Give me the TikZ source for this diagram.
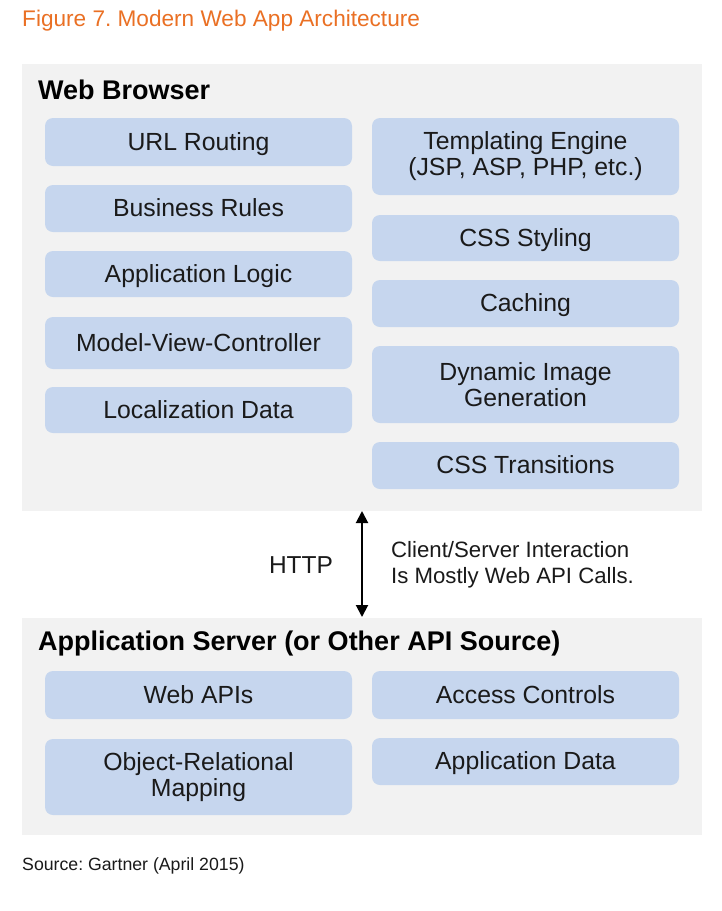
\documentclass[tikz,border=0pt]{standalone}
\usepackage{fontspec}
\setmainfont{Liberation Sans}
\frenchspacing
\usetikzlibrary{arrows.meta}
\definecolor{boxblue}{RGB}{198,214,238}
\definecolor{panelgray}{RGB}{242,242,242}
\definecolor{titleorange}{RGB}{234,112,36}
\definecolor{txt}{RGB}{26,26,26}
\begin{document}
\begin{tikzpicture}[x=1pt,y=-1pt,
  panel/.style={fill=panelgray,draw=none,inner sep=0pt,anchor=north west},
  boxnode/.style={fill=boxblue,draw=none,rounded corners=8pt,minimum width=307pt,inner sep=0pt,align=center,text=txt,font=\fontsize{24.8}{26}\selectfont},
  oneline/.style={boxnode,text height=17.8pt,text depth=1.5pt},
  twoline/.style={boxnode},
  heading/.style={anchor=west,font=\fontsize{27}{30}\selectfont\bfseries,text=black,inner sep=0pt},
  plain/.style={inner sep=0pt,text=txt}]
\useasboundingbox (0,0) rectangle (721,911);
\fill[white] (0,0) rectangle (721,911);
% title
\node[plain,anchor=west,text=titleorange,font=\fontsize{22.6}{26}\selectfont] (title) at (22,21) {Figure 7. Modern Web App Architecture};
% panels
\node[panel,minimum width=680pt,minimum height=447pt] (browser) at (22,64) {};
\node[panel,minimum width=680pt,minimum height=217pt] (server) at (22,618) {};
\node[heading] (bhead) at (38,90) {Web Browser};
\node[heading] (shead) at (38,644) {Application Server (or Other API Source)};
% browser left column
\node[oneline,minimum height=48pt] (url) at (198.5,142) {URL Routing};
\node[oneline,minimum height=47pt] (biz) at (198.5,208.5) {Business Rules};
\node[oneline,minimum height=46pt] (logic) at (198.5,274) {Application Logic};
\node[oneline,minimum height=52pt] (mvc) at (198.5,343) {Model-View-Controller};
\node[oneline,minimum height=46pt] (loc) at (198.5,410) {Localization Data};
% browser right column
\node[twoline,minimum height=77pt] (tmpl) at (525.5,156.5) {Templating Engine\\(JSP, ASP, PHP, etc.)};
\node[oneline,minimum height=46pt] (css) at (525.5,238) {CSS Styling};
\node[oneline,minimum height=47pt] (cache) at (525.5,303.5) {Caching};
\node[twoline,minimum height=77pt] (dyn) at (525.5,384.5) {Dynamic Image\\Generation};
\node[oneline,minimum height=47pt] (trans) at (525.5,465.5) {CSS Transitions};
% server boxes
\node[oneline,minimum height=48pt] (webapi) at (198.5,695) {Web APIs};
\node[oneline,minimum height=48pt] (access) at (525.5,695) {Access Controls};
\node[twoline,minimum height=76pt] (orm) at (198.5,777) {Object-Relational\\Mapping};
\node[oneline,minimum height=47pt] (appdata) at (525.5,761.5) {Application Data};
% arrow
\coordinate (atop) at (362,511);
\coordinate (abot) at (362,617);
\draw[line width=2pt,{Triangle[width=12pt,length=12pt]}-{Triangle[width=12pt,length=12pt]}] (atop) -- (abot);
\node[plain,font=\fontsize{24.5}{26}\selectfont] (http) at (301,565) {HTTP};
\node[plain,anchor=west,align=left,font=\fontsize{22.2}{26}\selectfont] (note) at (391,565) {Client/Server Interaction\\Is Mostly Web API Calls.};
% source
\node[plain,anchor=west,font=\fontsize{17.7}{22}\selectfont] (source) at (22,866) {Source: Gartner (April 2015)};
\end{tikzpicture}
\end{document}
